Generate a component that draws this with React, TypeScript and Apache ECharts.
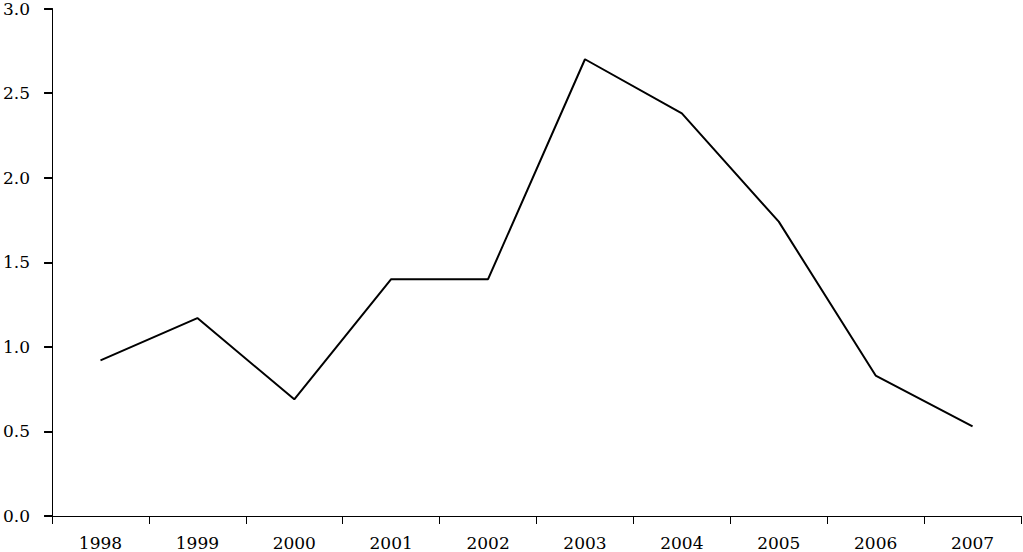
import React, { useEffect, useRef } from "react";
import * as echarts from "echarts";

const years = ["1998", "1999", "2000", "2001", "2002", "2003", "2004", "2005", "2006", "2007"];
const values = [0.92, 1.17, 0.69, 1.4, 1.4, 2.7, 2.38, 1.74, 0.83, 0.53];

export default function App() {
  const ref = useRef<HTMLDivElement>(null);
  useEffect(() => {
    if (!ref.current) return;
    const chart = echarts.init(ref.current, undefined, { renderer: "svg" });
    const font = "DejaVu Serif";
    chart.setOption({
      animation: false,
      grid: { left: 52, right: 2, top: 5, bottom: 36, containLabel: false },
      xAxis: {
        type: "category",
        data: years,
        boundaryGap: true,
        axisLine: { lineStyle: { color: "#000", width: 1 } },
        axisTick: { show: true, length: 8, lineStyle: { color: "#000", width: 1 } },
        axisLabel: { color: "#000", fontFamily: font, fontSize: 17, margin: 18 },
        splitLine: { show: false },
      },
      yAxis: {
        type: "value",
        min: 0,
        max: 3,
        interval: 0.5,
        axisLine: { show: true, lineStyle: { color: "#000", width: 1 } },
        axisTick: { show: true, length: 8, lineStyle: { color: "#000", width: 2 } },
        axisLabel: {
          color: "#000",
          fontFamily: font,
          fontSize: 17,
          margin: 22,
          formatter: (v: number) => v.toFixed(1),
        },
        splitLine: { show: false },
      },
      series: [
        {
          type: "line",
          data: values,
          symbol: "none",
          lineStyle: { color: "#000", width: 2 },
        },
      ],
    });
    return () => chart.dispose();
  }, []);
  return <div ref={ref} style={{ position: "absolute", left: 0, top: 0, width: 1023, height: 552 }} />;
}
